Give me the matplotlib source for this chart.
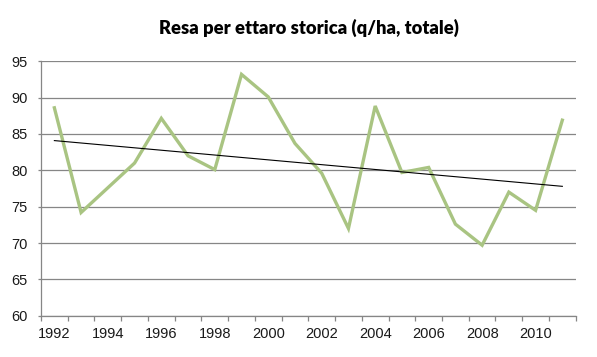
import matplotlib
matplotlib.use("Agg")
import matplotlib.pyplot as plt
import numpy as np

years = list(range(1992, 2012))
resa = [88.6, 74.2, 77.6, 81.0, 87.15, 82.0, 80.1, 93.2, 90.1, 83.7,
        79.6, 72.0, 88.85, 79.7, 80.4, 72.6, 69.7, 77.0, 74.5, 86.9]
y_ticks = [60, 65, 70, 75, 80, 85, 90, 95]
title = "Resa per ettaro storica (q/ha, totale)"

fig = plt.figure(figsize=(5.97, 3.57), dpi=100)
ax = fig.add_axes([41/597, 1-315.7/357, (575.7-41)/597, (315.7-61.3)/357])

x = np.arange(len(years))
ax.plot(x, resa, color="#A9C482", lw=2.4, solid_joinstyle="miter", zorder=3)
coef = np.polyfit(x, resa, 1)
ax.plot(x, np.polyval(coef, x), color="black", lw=0.8, zorder=4)

ax.set_xlim(-0.5, len(years) - 0.5)
ax.set_ylim(60, 95)
ax.set_yticks(y_ticks)
ax.set_yticklabels([str(v) for v in y_ticks])
ax.yaxis.grid(True, color="#868686", lw=0.9)
ax.set_axisbelow(True)

ax.set_xticks(x[::2])
ax.set_xticklabels([str(y) for y in years[::2]])
ax.set_xticks(np.arange(-0.5, len(years)), minor=True)
ax.tick_params(axis="x", which="major", length=0, pad=8)
ax.tick_params(axis="x", which="minor", length=3.5, color="#868686", width=0.9, direction="out")
ax.tick_params(axis="y", length=2.5, color="#868686", width=0.9, pad=7)

for lab in ax.get_xticklabels() + ax.get_yticklabels():
    lab.set_fontfamily("Liberation Sans")
    lab.set_fontsize(10.5)
    lab.set_color("#1a1a1a")

for s in ["top", "right"]:
    ax.spines[s].set_visible(False)
for s in ["left", "bottom"]:
    ax.spines[s].set_color("#868686")
    ax.spines[s].set_linewidth(0.9)

fig.text(309/597, 1-28/357, title, ha="center", va="center",
         fontsize=13.2, fontweight="heavy", family="Lato")

fig.savefig("out.png", dpi=100)
